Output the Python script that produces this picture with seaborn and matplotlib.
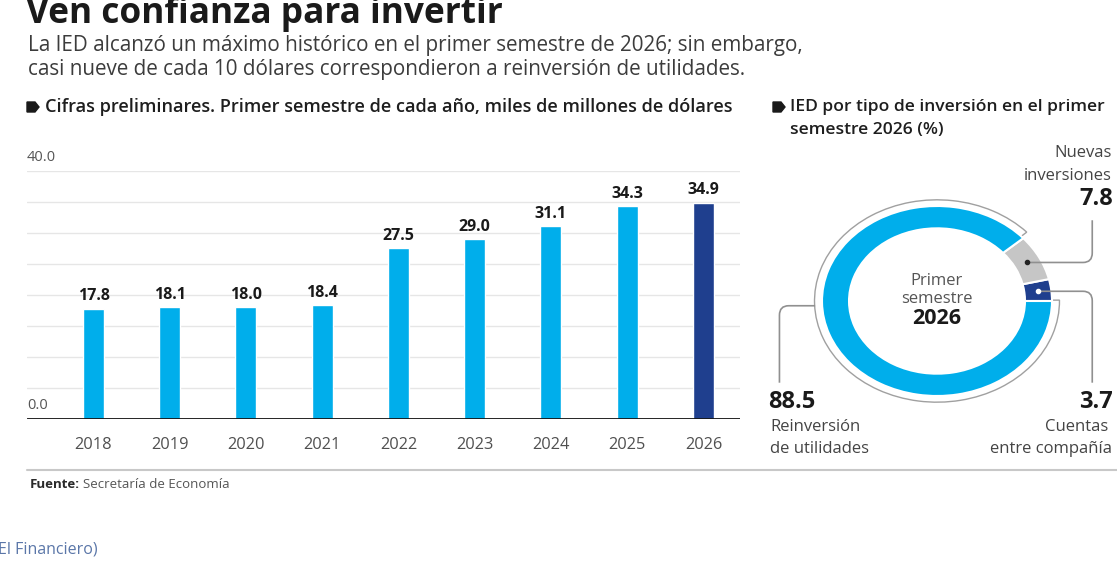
import matplotlib
matplotlib.use("Agg")
import matplotlib.pyplot as plt
import matplotlib.patches as mpatches
from matplotlib.lines import Line2D
from matplotlib.path import Path
import numpy as np
import seaborn as sns

# data
years = ["2018", "2019", "2020", "2021", "2022", "2023", "2024", "2025", "2026"]
ied = [17.8, 18.1, 18.0, 18.4, 27.5, 29.0, 31.1, 34.3, 34.9]

tipos = ["Cuentas entre compañía", "Nuevas inversiones", "Reinversión de utilidades"]
shares = [3.7, 7.8, 88.5]

LIGHT = "#00AEEB"
DARK = "#1F3F8E"
GREY = "#C6C6C6"

sns.set_theme(style="white")
plt.rcParams["font.family"] = ["Open Sans", "DejaVu Sans"]

W, H = 1117, 563
fig = plt.figure(figsize=(W / 100, H / 100), dpi=100)


def P(x, y):
    return x / W, 1 - y / H


def ftext(x, y, s, **kw):
    xx, yy = P(x, y)
    kw.setdefault("va", "center")
    return fig.text(xx, yy, s, **kw)


def tag(x, y):
    pts = [(x, y - 5), (x + 8, y - 5), (x + 12, y), (x + 8, y + 5), (x, y + 5)]
    poly = mpatches.Polygon([P(a, b) for a, b in pts], closed=True,
                            transform=fig.transFigure, color="#1a1a1a")
    fig.add_artist(poly)


# header
ftext(26, 14, "Ven confianza para invertir", fontsize=25.4, fontweight="bold", color="#1a1a1a")
ftext(28, 45, "La IED alcanzó un máximo histórico en el primer semestre de 2026; sin embargo,",
      fontsize=14.9, color="#3c3c3c")
ftext(28, 70, "casi nueve de cada 10 dólares correspondieron a reinversión de utilidades.",
      fontsize=14.9, color="#3c3c3c")

tag(27, 107)
ftext(45, 107, "Cifras preliminares. Primer semestre de cada año, miles de millones de dólares",
      fontsize=13.1, color="#1e1e1e", fontweight="semibold")
tag(773, 107)
ftext(790, 107, "IED por tipo de inversión en el primer", fontsize=12.6, color="#1e1e1e",
      fontweight="semibold")
ftext(790, 130, "semestre 2026 (%)", fontsize=12.6, color="#1e1e1e", fontweight="semibold")

# bar chart
ax = fig.add_axes([27 / W, 1 - 419 / H, (740 - 27) / W, (419 - 171) / H])
bar_colors = [LIGHT] * (len(years) - 1) + [DARK]
sns.barplot(x=years, y=ied, hue=years, palette=bar_colors, legend=False,
            width=0.275, saturation=1, ax=ax, zorder=3)
for c in ax.containers:
    ax.bar_label(c, fmt="%.1f", padding=3, fontsize=11.5, fontweight="bold", color="#1a1a1a")

ax.set_ylim(0, 40)
ax.set_xlim(-0.872, 8.48)
ax.set_yticks(np.arange(0, 41, 5))
ax.yaxis.grid(True, color="#e6e6e6", lw=1, zorder=0)
ax.set_yticklabels([])
ax.tick_params(axis="y", length=0)
ax.tick_params(axis="x", length=0, pad=13, labelsize=11.8, labelcolor="#505050")
for s in ax.spines.values():
    s.set_visible(False)
ax.axhline(0, color="#111111", lw=2, zorder=4)
ax.set_xlabel("")
ax.set_ylabel("")
for v in (0, 40):
    ax.annotate(f"{v:.1f}", xy=(0, v), xycoords=("axes fraction", "data"),
                xytext=(0, 4), textcoords="offset points", ha="left", va="bottom",
                fontsize=10.5, color="#555555")

# donut
ax2 = fig.add_axes([822 / W, 1 - 396 / H, 230 / W, 190 / H])
ring = 0.235
ax2.pie(shares, colors=[DARK, GREY, LIGHT], startangle=0, counterclock=True,
        wedgeprops=dict(width=ring, edgecolor="white", linewidth=1.5))
ax2.set_aspect("auto")
ax2.set_xlim(-1, 1)
ax2.set_ylim(-1, 1)
ax2.axis("off")

cum = np.cumsum([0] + shares) / 100 * 360
outline = mpatches.Wedge((0, 0), 1.065, cum[2] + 1.5, 360 + 0.5, width=0.1, fill=False,
                         edgecolor="#a0a0a0", lw=1, zorder=0, clip_on=False)
ax2.add_patch(outline)

rmid = 1 - ring / 2


def leader(x0, y0, x1, y1, rx=0.08, ry=0.1):
    sx = np.sign(x1 - x0)
    sy = np.sign(y1 - y0)
    verts = [(x0, y0), (x1 - sx * rx, y0), (x1, y0), (x1, y0 + sy * ry), (x1, y1)]
    codes = [Path.MOVETO, Path.LINETO, Path.CURVE3, Path.CURVE3, Path.LINETO]
    ax2.add_patch(mpatches.PathPatch(Path(verts, codes), fill=False, edgecolor="#909090",
                                     lw=1.2, clip_on=False, zorder=5))


mids = [np.deg2rad((cum[i] + cum[i + 1]) / 2) for i in range(3)]
# nuevas inversiones
gx, gy = rmid * np.cos(mids[1]), rmid * np.sin(mids[1])
leader(gx, gy, 1.35, 0.85)
ax2.plot(gx, gy, "o", ms=3, color="#222222", clip_on=False, zorder=6)
# cuentas entre compañía
bx, by = rmid * np.cos(mids[0]), rmid * np.sin(mids[0])
leader(bx, by, 1.35, -0.86)
ax2.plot(bx, by, "o", ms=3, color="white", clip_on=False, zorder=6)
# reinversión
leader(-1.06, -0.05, -1.37, -0.86)

ftext(937, 281, "Primer", fontsize=12, color="#555555", ha="center")
ftext(937, 299, "semestre", fontsize=12, color="#555555", ha="center")
ftext(937, 318, "2026", fontsize=15.5, color="#1a1a1a", ha="center", fontweight="bold")

ftext(1112, 153, "Nuevas", fontsize=12, color="#444444", ha="right")
ftext(1112, 176, "inversiones", fontsize=12, color="#444444", ha="right")
ftext(1113, 199, f"{shares[1]:.1f}", fontsize=17, color="#1a1a1a", ha="right", fontweight="bold")

ftext(768, 402, f"{shares[2]:.1f}", fontsize=17, color="#1a1a1a", ha="left", fontweight="bold")
ftext(770, 427, "Reinversión", fontsize=12, color="#444444", ha="left")
ftext(770, 449, "de utilidades", fontsize=12, color="#444444", ha="left")

ftext(1113, 402, f"{shares[0]:.1f}", fontsize=17, color="#1a1a1a", ha="right", fontweight="bold")
ftext(1108, 427, "Cuentas", fontsize=12, color="#444444", ha="right")
ftext(1112, 449, "entre compañía", fontsize=12, color="#444444", ha="right")

# footer
x0, y0 = P(27, 470)
x1, _ = P(1117, 470)
fig.add_artist(Line2D([x0, x1], [y0, y0], color="#c8c8c8", lw=1.5, transform=fig.transFigure))
t1 = ftext(30, 484, "Fuente:", fontsize=9.5, color="#2a2a2a", fontweight="bold")
ax.annotate("Secretaría de Economía", xy=(1, 0.5), xycoords=t1, xytext=(2, 0),
            textcoords="offset points", ha="left", va="center", fontsize=9.5,
            color="#555555", annotation_clip=False)
ftext(-2, 550, "El Financiero)", fontsize=11.5, color="#5a76a8")

fig.savefig("out.png", dpi=100)
